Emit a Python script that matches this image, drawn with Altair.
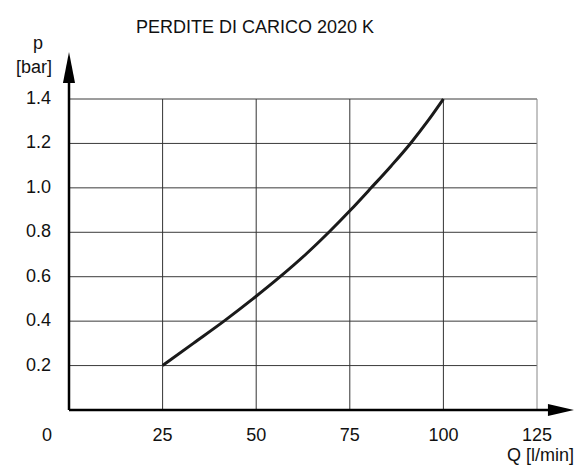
import altair as alt
import pandas as pd

# Curve data
q_vals = [25, 33.2, 41.4, 49.1, 56.4, 63.2, 69.4, 75.2, 80.7, 86.1, 91.2, 95.8, 100]
p_vals = [0.2, 0.3, 0.4, 0.5, 0.6, 0.7, 0.8, 0.9, 1.0, 1.1, 1.2, 1.3, 1.4]

x_ticks = [0, 25, 50, 75, 100, 125]
x_tick_labels = ["0", "25", "50", "75", "100", "125"]
y_ticks = [0.2, 0.4, 0.6, 0.8, 1.0, 1.2, 1.4]
y_tick_labels = ["0.2", "0.4", "0.6", "0.8", "1.0", "1.2", "1.4"]

title_text = "PERDITE DI CARICO 2020 K"
y_title = ["p", "[bar]"]
x_title = "Q [l/min]"

X_MAX = 125
Y_MAX = 1.4
FONT = "Liberation Sans"

xs = alt.Scale(domain=[0, X_MAX], nice=False, zero=False)
ys = alt.Scale(domain=[0, Y_MAX], nice=False, zero=False)

curve_df = pd.DataFrame({"Q": q_vals, "p": p_vals})

vgrid_df = pd.DataFrame({"Q": x_ticks[1:], "y0": [0] * 5, "y1": [Y_MAX] * 5,
                         "c": ["#333333"] * 4 + ["#888888"]})
hgrid_df = pd.DataFrame({"p": y_ticks, "x0": [0] * 7, "x1": [X_MAX] * 7})

xlab_df = pd.DataFrame({"Q": x_ticks, "lab": x_tick_labels, "p": [0] * 6,
                        "off": [-22, 0, 0, 0, 0, 0]})
ylab_df = pd.DataFrame({"p": y_ticks, "lab": y_tick_labels, "Q": [0] * 7})


def X(f):
    return alt.X(f, type="quantitative", scale=xs, axis=None)


def Y(f):
    return alt.Y(f, type="quantitative", scale=ys, axis=None)


vgrid = alt.Chart(vgrid_df).mark_rule(strokeWidth=1).encode(
    x=X("Q"), y=Y("y0"), y2="y1:Q",
    color=alt.Color("c:N", scale=None, legend=None),
)
hgrid = alt.Chart(hgrid_df).mark_rule(strokeWidth=1, color="#3a3a3a").encode(
    y=Y("p"), x=X("x0"), x2="x1:Q",
)

curve = alt.Chart(curve_df).mark_line(
    strokeWidth=3, color="#1a1a1a", interpolate="monotone"
).encode(x=X("Q"), y=Y("p"))

xaxis = alt.Chart(pd.DataFrame({"a": [0], "b": [131], "p": [0]})).mark_rule(
    strokeWidth=2.5, color="black"
).encode(x=X("a"), x2="b:Q", y=Y("p"))
yaxis = alt.Chart(pd.DataFrame({"a": [0], "b": [1.5], "Q": [0]})).mark_rule(
    strokeWidth=2.5, color="black"
).encode(y=Y("a"), y2="b:Q", x=X("Q"))

yarrow = alt.Chart(pd.DataFrame({"Q": [0], "p": [1.542]})).mark_point(
    shape="M-0.39,1 L0,-1 L0.39,1 Z", filled=True, size=961, color="black", opacity=1
).encode(x=X("Q"), y=Y("p"))
xarrow = alt.Chart(pd.DataFrame({"Q": [131.4], "p": [0]})).mark_point(
    shape="M-1,-0.46 L1,0 L-1,0.46 Z", filled=True, size=676, color="black", opacity=1
).encode(x=X("Q"), y=Y("p"))

xlabels = alt.Chart(xlab_df).transform_calculate(
    Qs="datum.Q + datum.off / 3.744"
).mark_text(
    font=FONT, fontSize=18, color="#111111", baseline="middle", align="center", dy=26
).encode(x=X("Qs"), y=Y("p"), text="lab:N")

ylabels = alt.Chart(ylab_df).mark_text(
    font=FONT, fontSize=18, color="#111111", baseline="middle", align="right", dx=-18
).encode(y=Y("p"), x=X("Q"), text="lab:N")


def label(txt, x, y, align="center", size=18):
    return alt.Chart(pd.DataFrame({"t": [txt]})).mark_text(
        font=FONT, fontSize=size, color="#111111", baseline="middle", align=align
    ).encode(x=alt.value(x), y=alt.value(y), text="t:N")


title = label(title_text, 186, -71, size=18)
p_lab = label(y_title[0], -31, -55)
bar_lab = label(y_title[1], -35, -31)
q_lab = label(x_title, 505, 357, align="right")

chart = alt.layer(
    hgrid, vgrid, curve, xaxis, yaxis, yarrow, xarrow,
    xlabels, ylabels, title, p_lab, bar_lab, q_lab,
).properties(
    width=468, height=311,
    padding={"left": 61, "top": 91, "right": 37, "bottom": 57},
    autosize=alt.AutoSizeParams(type="none"),
).configure_view(stroke=None)

chart.save("out.html", embed_options={"renderer": "svg", "actions": False})
